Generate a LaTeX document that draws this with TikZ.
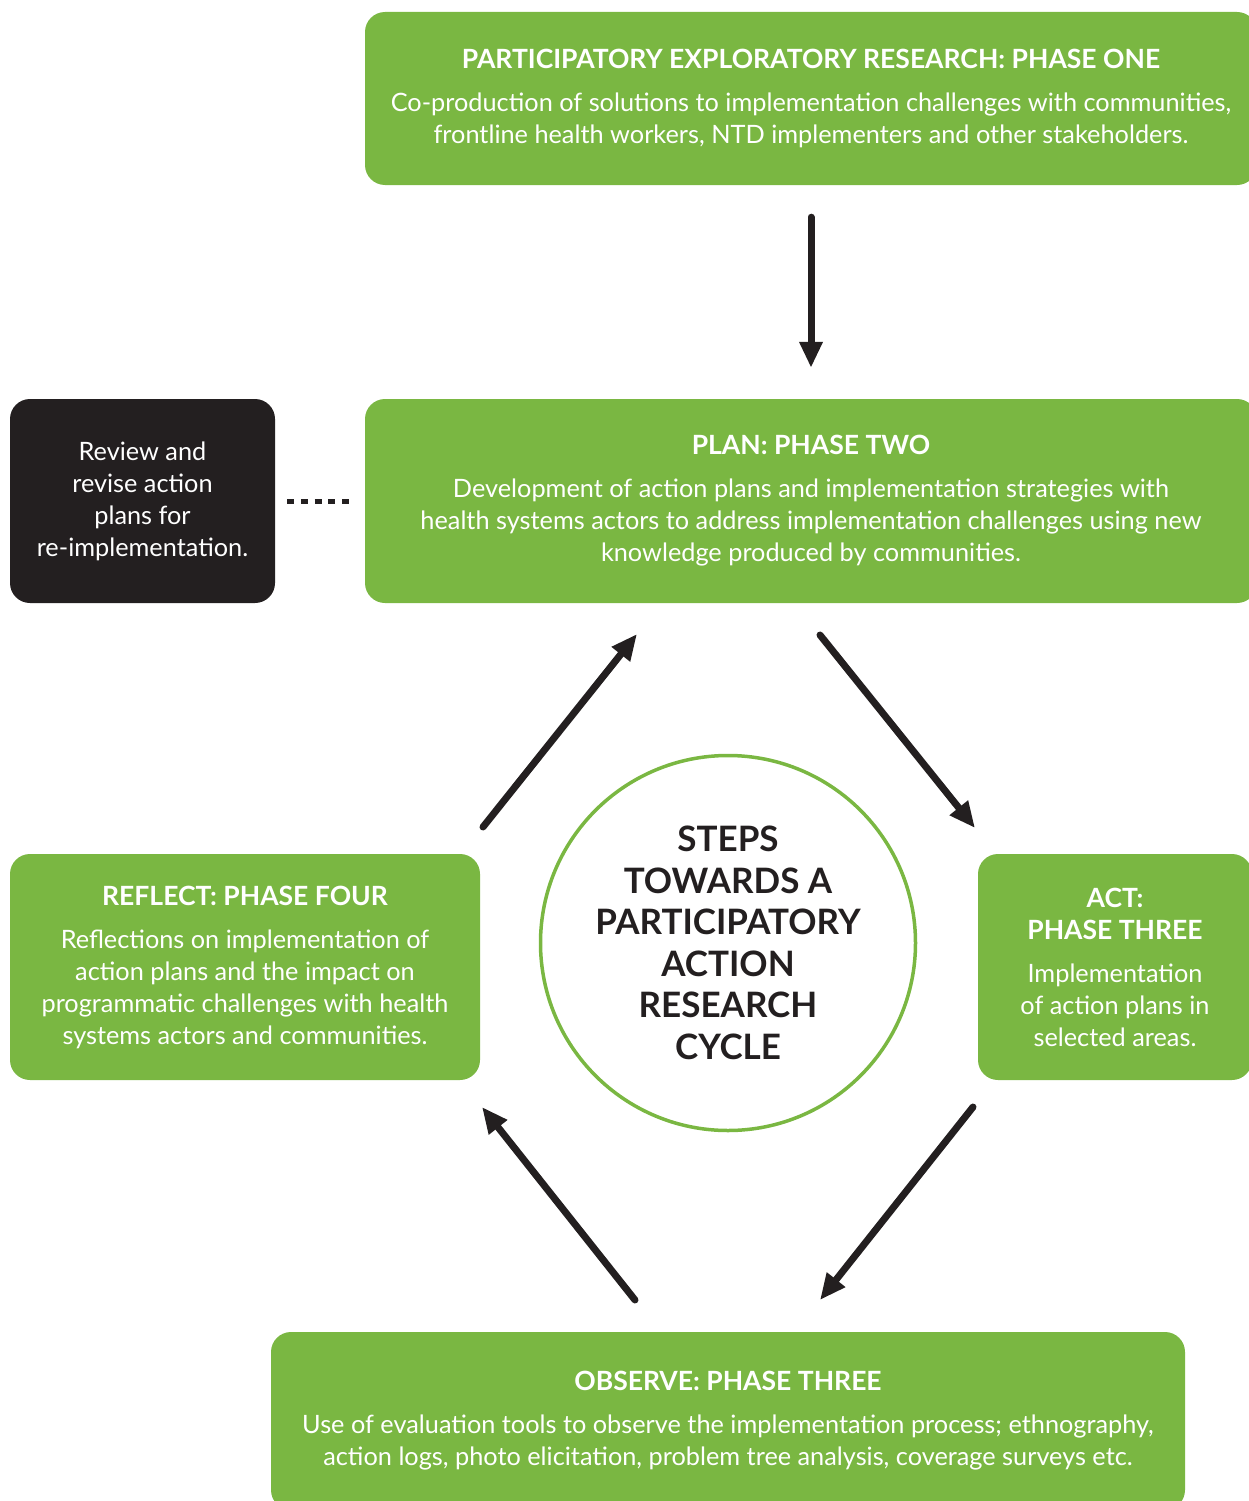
\documentclass[tikz,border=0pt]{standalone}
\usepackage{fontspec}
\setmainfont{Lato}
\usepackage{tikz}
\usetikzlibrary{arrows.meta}
\definecolor{pargreen}{HTML}{7AB742}
\definecolor{parblack}{HTML}{231F20}
\newcommand{\phasehead}[1]{{\fontsize{26.5}{32}\selectfont\bfseries #1}}

\begin{document}
\begin{tikzpicture}[x=1pt,y=-1pt,
  box/.style={fill=pargreen,rounded corners=20pt,text=white,align=center,inner sep=0pt,
    font=\fontsize{25.3}{32}\selectfont},
  darkbox/.style={box,fill=parblack},
  cyc/.style={draw=parblack,line width=7pt,line cap=round,-{Triangle[length=26pt,width=22pt]}},
  hub/.style={circle,draw=pargreen,line width=3.5pt,minimum size=375pt,inner sep=0pt,align=center,
    text=parblack,font=\fontsize{35}{41.5}\selectfont\bfseries}]
  \useasboundingbox (0,0) rectangle (1249,1501);
  \clip (0,0) rectangle (1249,1501);

  % Phase boxes
  \node[box,minimum width=892pt,minimum height=173pt] (explore) at (811,98.5)
    {\phasehead{PARTICIPATORY EXPLORATORY RESEARCH: PHASE ONE}\\[11pt]
     Co-production of solutions to implementation challenges with communities,\\
     frontline health workers, NTD implementers and other stakeholders.};
  \node[box,minimum width=892pt,minimum height=204pt] (plan) at (811,501)
    {\phasehead{PLAN: PHASE TWO}\\[11pt]
     Development of action plans and implementation strategies with\\
     health systems actors to address implementation challenges using new\\
     knowledge produced by communities.};
  \node[darkbox,minimum width=265pt,minimum height=204pt] (review) at (142.5,501)
    {Review and\\ revise action\\ plans for\\ re-implementation.};
  \node[box,minimum width=470pt,minimum height=226pt] (reflect) at (245,967)
    {\phasehead{REFLECT: PHASE FOUR}\\[11pt]
     Reflections on implementation of\\
     action plans and the impact on\\
     programmatic challenges with health\\
     systems actors and communities.};
  \node[box,minimum width=274pt,minimum height=226pt] (act) at (1115,967)
    {\phasehead{ACT:}\\ \phasehead{PHASE THREE}\\[11pt]
     Implementation\\ of action plans in\\ selected areas.};
  \node[box,minimum width=914pt,minimum height=178pt] (observe) at (728,1421)
    {\phasehead{OBSERVE: PHASE THREE}\\[11pt]
     Use of evaluation tools to observe the implementation process; ethnography,\\
     action logs, photo elicitation, problem tree analysis, coverage surveys etc.};

  % Centre of the cycle
  \node[hub] (cycle) at (728,943)
    {STEPS\\ TOWARDS A\\ PARTICIPATORY\\ ACTION\\ RESEARCH\\ CYCLE};

  % Arrow ends
  \coordinate (reflectOut) at (483,827);
  \coordinate (planIn) at (637,634);
  \coordinate (planOut) at (820,635);
  \coordinate (actIn) at (975,828);
  \coordinate (actOut) at (973,1107);
  \coordinate (observeIn) at (820,1300);
  \coordinate (observeOut) at (635,1300);
  \coordinate (reflectIn) at (482,1107);

  % Arrows
  \draw[cyc,shorten <=32pt,shorten >=31pt] (explore.south) -- (plan.north);
  \draw[cyc] (reflectOut) -- (planIn);
  \draw[cyc] (planOut) -- (actIn);
  \draw[cyc] (actOut) -- (observeIn);
  \draw[cyc] (observeOut) -- (reflectIn);

  % Link to the review box
  \draw[parblack,line width=5pt,dash pattern=on 7pt off 6.7pt,shorten <=12pt,shorten >=12pt]
    (review.east) -- (plan.west);
\end{tikzpicture}
\end{document}
